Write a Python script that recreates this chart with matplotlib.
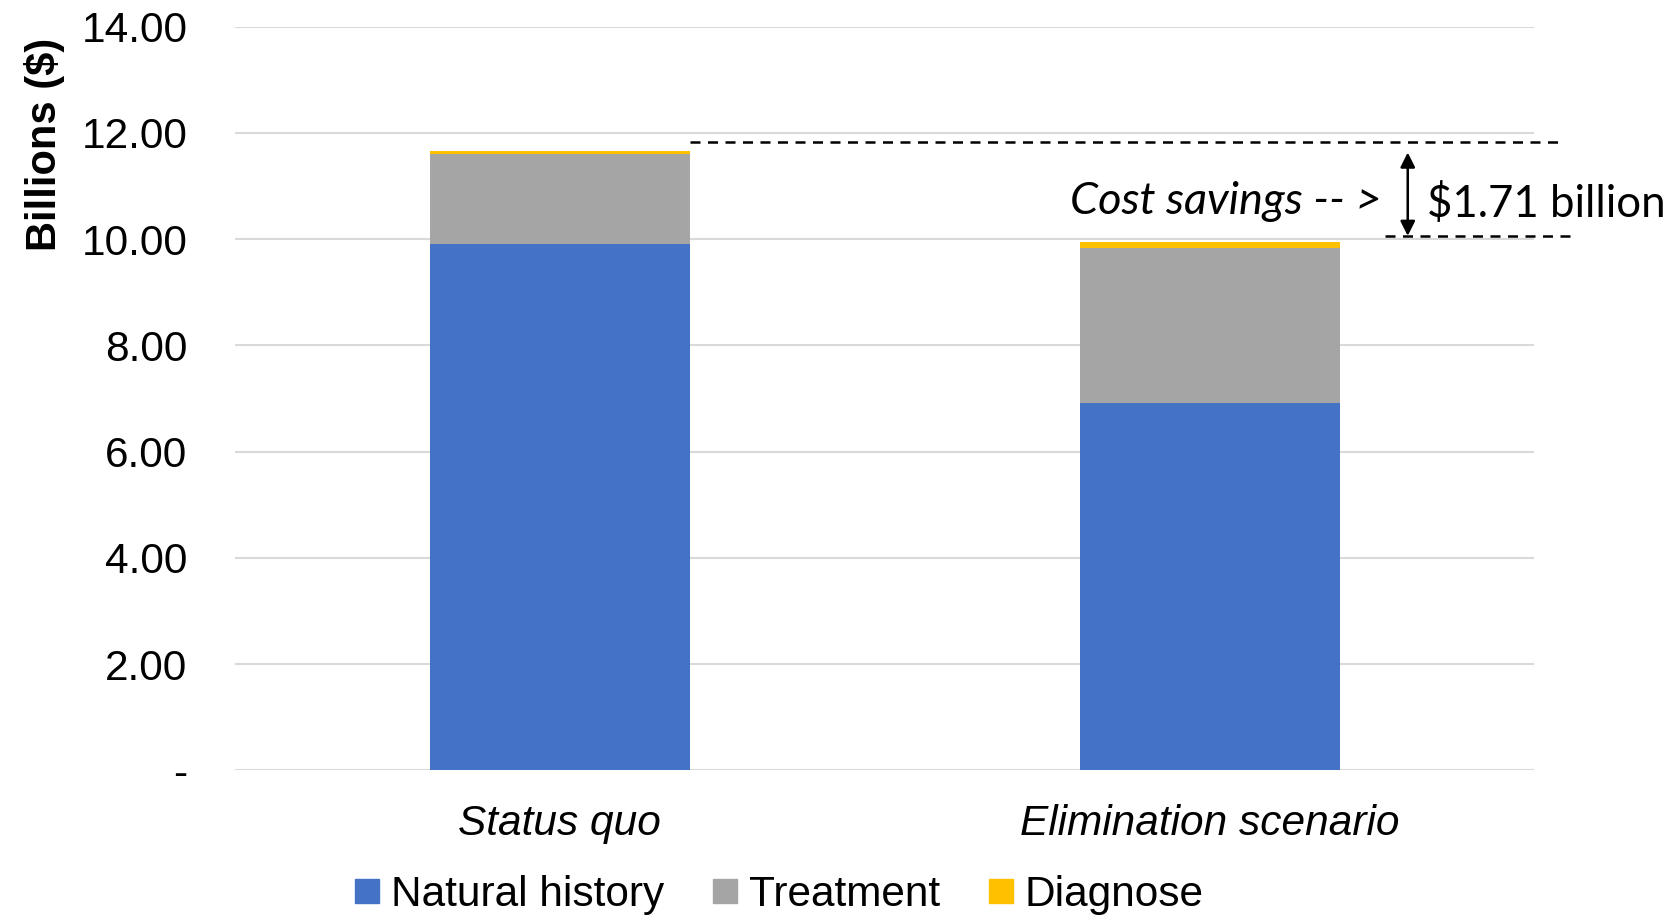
import numpy as np
import matplotlib.pyplot as plt
from matplotlib.lines import Line2D

categories = ['Status quo', 'Elimination scenario']
natural_history = np.array([9.90, 6.92])
treatment = np.array([1.71, 2.92])
diagnose = np.array([0.04, 0.10])
yticks = [0, 2, 4, 6, 8, 10, 12, 14]
ytick_labels = ['-', '2.00', '4.00', '6.00', '8.00', '10.00', '12.00', '14.00']
savings_label = '$1.71 billion'

c_blue = '#4472C4'
c_gray = '#A5A5A5'
c_yellow = '#FFC000'

plt.rcParams['font.family'] = ['Liberation Sans', 'DejaVu Sans']

fig = plt.figure(figsize=(16.77, 9.17), dpi=100)
ax = fig.add_axes([0.140, 0.160, 0.775, 0.811])

x = np.arange(len(categories))
w = 0.40
ax.bar(x, natural_history, w, color=c_blue, zorder=3)
ax.bar(x, treatment, w, bottom=natural_history, color=c_gray, zorder=3)
ax.bar(x, diagnose, w, bottom=natural_history + treatment, color=c_yellow, zorder=3)

ax.set_xlim(-0.5, 1.5)
ax.set_ylim(0, 14)
ax.set_yticks(yticks)
ax.set_yticklabels(ytick_labels, fontsize=30.5)
ax.set_xticks(x)
ax.set_xticklabels(categories, fontsize=30.5, style='italic')
ax.tick_params(axis='y', length=0, pad=34)
ax.tick_params(axis='x', length=0, pad=24)
ax.grid(axis='y', color='#D9D9D9', linewidth=1.5, zorder=0)
for s in ax.spines.values():
    s.set_visible(False)
ax.set_ylabel('Billions ($)', fontsize=30, fontweight='bold')
ax.yaxis.set_label_coords(-0.131, 0.842)

# cost savings annotation
top1 = (natural_history + treatment + diagnose)[0]
top2 = (natural_history + treatment + diagnose)[1]
ax.plot([0.2, 1.54], [top1 + 0.18, top1 + 0.18], ls=(0, (4, 3)), color='black', lw=1.8, clip_on=False, zorder=4)
ax.plot([1.27, 1.56], [top2 + 0.12, top2 + 0.12], ls=(0, (4, 3)), color='black', lw=1.8, clip_on=False, zorder=4)
ax.annotate('', xy=(1.305, top1 - 0.02), xytext=(1.305, top2 + 0.12),
            arrowprops=dict(arrowstyle='<|-|>', color='black', lw=1.8, mutation_scale=22,
                            shrinkA=0, shrinkB=0))
ax.text(1.265, 10.7, 'Cost savings -- >', fontsize=32.5, style='italic', family=['Lato', 'DejaVu Sans'],
        ha='right', va='center')
ax.text(1.335, 10.66, savings_label, fontsize=31.5, family=['Lato', 'DejaVu Sans'], ha='left', va='center',
        clip_on=False)

handles = [Line2D([], [], marker='s', ls='none', markersize=17, color=c) for c in (c_blue, c_gray, c_yellow)]
fig.legend(handles, ['Natural history', 'Treatment', 'Diagnose'], loc='center', bbox_to_anchor=(0.462, 0.024),
           ncol=3, frameon=False, fontsize=30.5, handletextpad=0.05, columnspacing=0.95, handlelength=1.0)

fig.savefig('out.png', dpi=100)
